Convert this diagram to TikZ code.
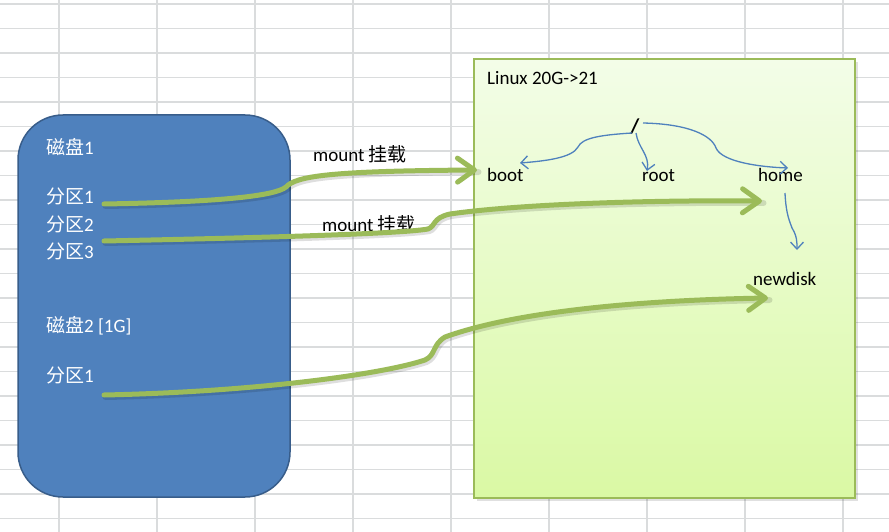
\documentclass[tikz,border=0pt]{standalone}
\usepackage{fontspec}
\setmainfont{Carlito}
\newfontfamily\cjk{Noto Sans CJK SC}
\usetikzlibrary{arrows.meta,calc}
\definecolor{gridc}{HTML}{DADCDD}
\definecolor{diskfill}{HTML}{4F81BD}
\definecolor{diskedge}{HTML}{385D8A}
\definecolor{linedge}{HTML}{9BBB59}
\definecolor{lintop}{HTML}{F3FDE8}
\definecolor{linbot}{HTML}{DAF9A4}
\definecolor{mountc}{HTML}{9BBB59}
\definecolor{treec}{HTML}{4F81BD}
\begin{document}
\begin{tikzpicture}[x=1pt,y=-1pt,
  disklabel/.style={anchor=base west,inner sep=0pt,text=white,font=\fontsize{19}{22}\selectfont},
  dirlabel/.style={anchor=base west,inner sep=0pt,text=black,font=\fontsize{19}{22}\selectfont},
  mountarrow/.style={draw=mountc,line width=5pt,line cap=round,-{Straight Barb[length=17pt,width=24pt,round]}},
  mountshadow/.style={draw=black,opacity=0.13,line width=6pt,line cap=round},
  treearrow/.style={draw=treec,line width=1.3pt,-{Straight Barb[length=7pt,width=13pt]}},
  boxshadow/.style={fill=black,opacity=0.12},
]
\useasboundingbox (0,0) rectangle (889,532);
\fill[white] (0,0) rectangle (889,532);
% spreadsheet grid
\foreach \k in {0,...,8} \draw[gridc,line width=1.5pt] (59+98*\k,0) -- (59+98*\k,532);
\foreach \k in {0,...,21} \draw[gridc,line width=1.5pt] (0,4+24.5*\k) -- (889,4+24.5*\k);

% disks box
\node[draw=diskedge, fill=diskfill, line width=1.5pt, rounded corners=45pt,
      minimum width=272pt, minimum height=382pt, inner sep=0pt] (disk) at (154,306) {};
% linux box
\fill[boxshadow] (477,62) rectangle (858,501);
\node[draw=linedge, line width=1.5pt, top color=lintop, bottom color=linbot,
      minimum width=381pt, minimum height=439pt, inner sep=0pt] (linux) at (664.5,278.5) {};

% texts in disk box
\node[disklabel] (d1)  at (46,155) {{\cjk 磁盘}1};
\node[disklabel] (p11) at (46,204) {{\cjk 分区}1};
\node[disklabel] (p12) at (46,231) {{\cjk 分区}2};
\node[disklabel] (p13) at (46,258) {{\cjk 分区}3};
\node[disklabel] (d2)  at (46,332) {{\cjk 磁盘}2 [1G]};
\node[disklabel] (p21) at (46,382) {{\cjk 分区}1};

% mount labels
\node[dirlabel] (m1) at (313,162) {mount {\cjk 挂载}};
\node[dirlabel] (m2) at (322,231) {mount {\cjk 挂载}};

% linux texts
\node[dirlabel] (lx) at (487,85) {Linux 20G->21};
\node[inner sep=0pt,font=\fontsize{21}{24}\selectfont\bfseries] (slash) at (635,127) {/};
\node[dirlabel] (boot) at (487,182) {boot};
\node[dirlabel] (rootd) at (642,182) {root};
\node[dirlabel] (home) at (758,182) {home};
\node[dirlabel] (newdisk) at (753,285) {newdisk};

% connector end points
\coordinate (s1) at (104,204);
\coordinate (e1) at (477,170);
\coordinate (s2) at (104,241);
\coordinate (e2) at (762,201);
\coordinate (s3) at (104,395);
\coordinate (e3) at (768,298);

\def\pathA{(s1) .. controls (220,202) and (275,196) .. (286,187) .. controls (296,176) and (330,171) .. (e1)}
\def\pathB{(s2) .. controls (250,238) and (400,234) .. (428,229) .. controls (436,226) and (432,218) .. (450,214) .. controls (520,204) and (650,200) .. (e2)}
\def\pathC{(s3) .. controls (250,392) and (380,375) .. (425,360) .. controls (436,355) and (432,345) .. (445,337) .. controls (520,310) and (650,300) .. (e3)}

\begin{scope}[transform canvas={xshift=1.5pt,yshift=-2pt}]
\draw[mountshadow] \pathA;
\draw[mountshadow] \pathB;
\draw[mountshadow] \pathC;
\end{scope}
\draw[mountarrow] \pathA;
\draw[mountarrow] \pathB;
\draw[mountarrow] \pathC;

% directory tree arrows
\coordinate (t1) at (632,133);
\coordinate (t2) at (636,133);
\coordinate (t3) at (643,123);
\coordinate (t4) at (785,193);
\coordinate (b1) at (520,163);
\coordinate (b2) at (647,171);
\coordinate (b3) at (788,168);
\coordinate (b4) at (797,250);
\draw[treearrow] (t1) .. controls (600,135) and (582,138) .. (578,147) .. controls (572,158) and (545,161) .. (b1);
\draw[treearrow] (t2) .. controls (638,148) and (650,155) .. (b2);
\draw[treearrow] (t3) .. controls (690,124) and (712,136) .. (716,148) .. controls (722,162) and (760,167) .. (b3);
\draw[treearrow] (t4) .. controls (786,215) and (790,222) .. (792,228) .. controls (797,236) and (797,242) .. (b4);
\end{tikzpicture}
\end{document}
